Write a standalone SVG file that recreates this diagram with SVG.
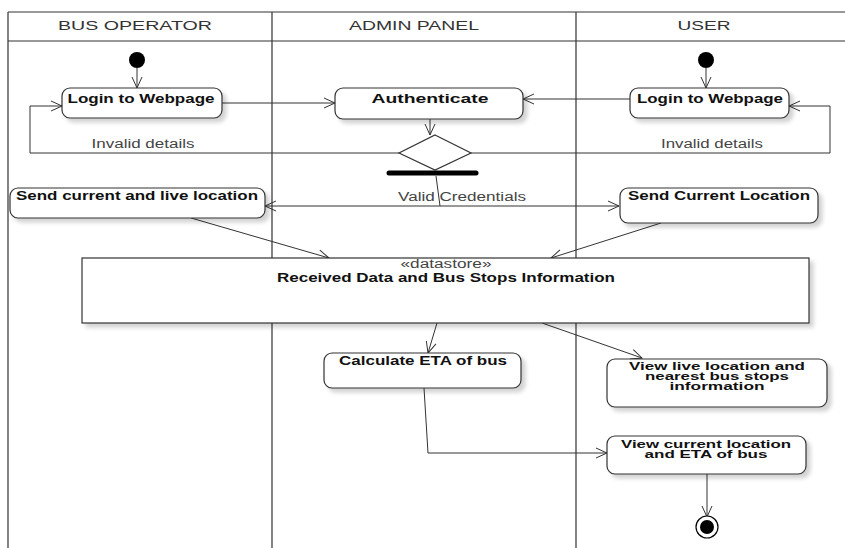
<svg xmlns="http://www.w3.org/2000/svg" width="845" height="548" viewBox="0 0 845 548">
<style>
.lane{fill:none;stroke:#333;stroke-width:1.2}
.hdr{font-family:"Liberation Sans",Arial,sans-serif;font-size:13px;fill:#333;text-anchor:middle}
.box{fill:#fff;stroke:#333;stroke-width:1.2;filter:url(#sh)}
.lbl{font-family:"Liberation Sans",Arial,sans-serif;font-size:12px;font-weight:bold;fill:#111;text-anchor:middle}
.ml{font-size:10px}
.note{font-family:"Liberation Sans",Arial,sans-serif;font-size:12px;fill:#444;text-anchor:middle}
.edge{fill:none;stroke:#333;stroke-width:1;marker-end:url(#arr)}
.plain{fill:none;stroke:#333;stroke-width:1}
</style>
<defs>
<filter id="sh" x="-10%" y="-20%" width="130%" height="160%">
<feGaussianBlur in="SourceAlpha" stdDeviation="2"/>
<feOffset dx="4" dy="4" result="b"/>
<feComponentTransfer><feFuncA type="linear" slope="0.18"/></feComponentTransfer>
<feMerge><feMergeNode/><feMergeNode in="SourceGraphic"/></feMerge>
</filter>
<marker id="arr" markerWidth="14" markerHeight="12" refX="12" refY="6" orient="auto" markerUnits="userSpaceOnUse">
<path d="M1,1 L12,6 L1,11" fill="none" stroke="#333" stroke-width="1"/>
</marker>
<marker id="arrs" markerWidth="14" markerHeight="12" refX="12" refY="6" orient="auto-start-reverse" markerUnits="userSpaceOnUse">
<path d="M1,1 L12,6 L1,11" fill="none" stroke="#333" stroke-width="1"/>
</marker>
</defs>
<rect width="845" height="548" fill="#fff"/>
<g id="lanes">
<path class="lane" d="M8,12 H845 M8,41 H845 M8,12 V548 M272,12 V548 M576,12 V548"/>
<text class="hdr" x="135" y="30" textLength="154" lengthAdjust="spacingAndGlyphs">BUS OPERATOR</text>
<text class="hdr" x="414" y="30" textLength="130" lengthAdjust="spacingAndGlyphs">ADMIN PANEL</text>
<text class="hdr" x="704" y="30" textLength="53" lengthAdjust="spacingAndGlyphs">USER</text>
</g>
<g id="connectors">
<path class="edge" d="M137,68 V88"/>
<path class="edge" d="M706,68 V88"/>
<path class="edge" d="M222,103 H335"/>
<path class="edge" d="M630,99 H523"/>
<path class="edge" d="M430,119 V135"/>
<path class="edge" d="M399,153 H30 V106 H62"/>
<path class="edge" d="M471,153 H830 V106 H789"/>
<text class="note" x="143" y="148" textLength="103" lengthAdjust="spacingAndGlyphs">Invalid details</text>
<text class="note" x="712" y="148" textLength="102" lengthAdjust="spacingAndGlyphs">Invalid details</text>
<path class="plain" d="M436,176 L440,206"/>
<path d="M265,206 H619" fill="none" stroke="#333" stroke-width="1" marker-start="url(#arrs)" marker-end="url(#arrs)"/>
<text class="note" x="462" y="201" textLength="128" lengthAdjust="spacingAndGlyphs">Valid Credentials</text>
<path class="edge" d="M191,218 L329,258"/>
<path class="edge" d="M661,223 L551,258"/>
<path class="edge" d="M437,323 L428,353"/>
<path class="edge" d="M542,323 L642,358"/>
<path class="edge" d="M424,388 L428,453 H607"/>
<path class="edge" d="M707,474 V517"/>
</g>
<g id="start1"><circle cx="137" cy="60" r="8" fill="#000"/></g>
<g id="start2"><circle cx="706" cy="60" r="8" fill="#000"/></g>
<g id="login-operator">
<rect class="box" x="62" y="88" width="160" height="30" rx="8"/>
<text class="lbl" x="141" y="103" textLength="147" lengthAdjust="spacingAndGlyphs">Login to Webpage</text>
</g>
<g id="authenticate">
<rect class="box" x="335" y="88" width="188" height="31" rx="8"/>
<text class="lbl" x="430" y="103" font-size="15" textLength="117" lengthAdjust="spacingAndGlyphs">Authenticate</text>
</g>
<g id="login-user">
<rect class="box" x="630" y="88" width="159" height="30" rx="8"/>
<text class="lbl" x="710" y="103" textLength="146" lengthAdjust="spacingAndGlyphs">Login to Webpage</text>
</g>
<g id="decision">
<polygon points="435,135 471,153 435,170 399,153" fill="#fff" stroke="#333" stroke-width="1.2"/>
</g>
<g id="fork">
<line x1="389" y1="173" x2="476" y2="173" stroke="#000" stroke-width="5" stroke-linecap="round"/>
</g>
<g id="send-operator">
<rect class="box" x="10" y="188" width="255" height="30" rx="8"/>
<text class="lbl" x="137" y="200" textLength="242" lengthAdjust="spacingAndGlyphs">Send current and live location</text>
</g>
<g id="send-user">
<rect class="box" x="620" y="188" width="198" height="35" rx="8"/>
<text class="lbl" x="719" y="200" textLength="182" lengthAdjust="spacingAndGlyphs">Send Current Location</text>
</g>
<g id="datastore">
<rect class="box" x="82" y="258" width="727" height="65"/>
<text class="note" x="446" y="268" font-size="10" fill="#333" textLength="91" lengthAdjust="spacingAndGlyphs">«datastore»</text>
<text class="lbl" x="446" y="282" textLength="338" lengthAdjust="spacingAndGlyphs">Received Data and Bus Stops Information</text>
</g>
<g id="calc-eta">
<rect class="box" x="324" y="353" width="197" height="35" rx="8"/>
<text class="lbl" x="423" y="365" textLength="168" lengthAdjust="spacingAndGlyphs">Calculate ETA of bus</text>
</g>
<g id="view-live">
<rect class="box" x="607" y="359" width="220" height="48" rx="8"/>
<text class="lbl ml"><tspan x="717" y="370" textLength="176" lengthAdjust="spacingAndGlyphs">View live location and</tspan><tspan x="717" y="380" textLength="144" lengthAdjust="spacingAndGlyphs">nearest bus stops</tspan><tspan x="717" y="390" textLength="95" lengthAdjust="spacingAndGlyphs">information</tspan></text>
</g>
<g id="view-current">
<rect class="box" x="607" y="436" width="199" height="38" rx="8"/>
<text class="lbl ml"><tspan x="706" y="448" textLength="170" lengthAdjust="spacingAndGlyphs">View current location</tspan><tspan x="706" y="458" textLength="123" lengthAdjust="spacingAndGlyphs">and ETA of bus</tspan></text>
</g>
<g id="end">
<circle cx="707" cy="527" r="11" fill="#fff" stroke="#000" stroke-width="1.2"/>
<circle cx="707" cy="527" r="7" fill="#000"/>
</g>
</svg>
